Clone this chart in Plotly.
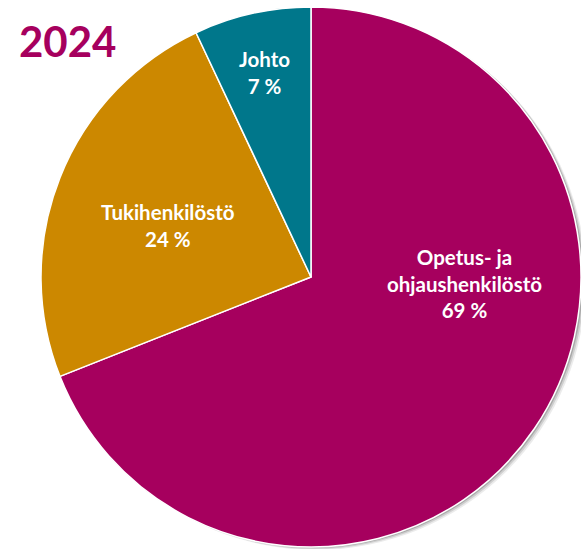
import plotly.graph_objects as go

labels = ["Opetus- ja<br>ohjaushenkilöstö", "Tukihenkilöstö", "Johto"]
values = [69, 24, 7]
colors = ["#A6005E", "#CC8800", "#00778B"]
title_text = "2024"

W, H = 581, 549
cx, cy, r = 311, 277, 270

def dom(cx, cy, r):
    return dict(x=[max(0, (cx - r) / W), min(1, (cx + r) / W)],
                y=[max(0, (H - cy - r) / H), min(1, (H - cy + r) / H)])

fig = go.Figure()
fig.add_trace(go.Pie(labels=labels, values=values, sort=False, direction="clockwise", rotation=0,
                     marker=dict(colors=colors, line=dict(color="white", width=1.5)),
                     domain=dom(cx, cy, r), textinfo="none", showlegend=False))

# soft shadow
for dx, dy, op in [(5, 3, 0.08), (3.5, 2, 0.12), (2, 1, 0.18)]:
    fig.add_shape(type="circle", xref="paper", yref="paper", layer="below",
                  x0=(cx - r + dx) / W, x1=(cx + r + dx) / W,
                  y0=1 - (cy + r + dy) / H, y1=1 - (cy - r + dy) / H,
                  fillcolor=f"rgba(0,0,0,{op})", line=dict(width=0))

pos = [(464, 283), (168, 225), (264, 72)]
for lab, v, (px, py) in zip(labels, values, pos):
    fig.add_annotation(x=px / W, y=1 - py / H, xref="paper", yref="paper", showarrow=False,
                       xanchor="center", yanchor="middle",
                       text=f"{lab}<br>{v} %", align="center",
                       font=dict(family="Lato", size=20.5, color="white", weight="bold"))

fig.add_annotation(x=67 / W, y=1 - 41 / H, xref="paper", yref="paper", showarrow=False,
                   xanchor="center", yanchor="middle",
                   text=title_text, font=dict(family="Lato", size=42, color="#A6005E", weight="bold"))

fig.update_layout(width=W, height=H, margin=dict(l=0, r=0, t=0, b=0),
                  paper_bgcolor="white", plot_bgcolor="white")
fig.write_html("out.html", config={"displayModeBar": False},
               post_script="document.body.style.margin='0';document.body.style.overflow='hidden';")
